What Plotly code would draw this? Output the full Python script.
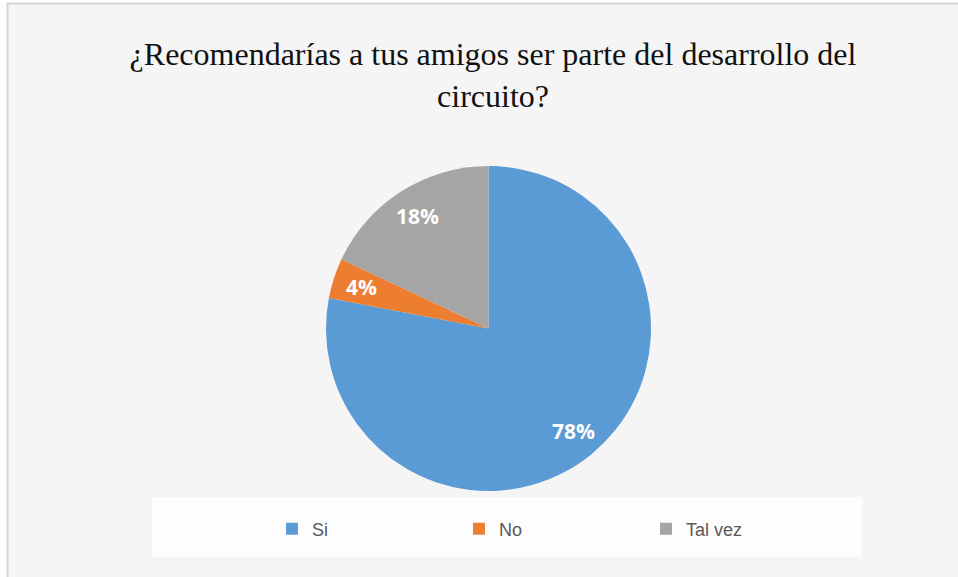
import math
import plotly.graph_objects as go

categories = ["Si", "No", "Tal vez"]
values = [78, 4, 18]
colors = ["#5B9BD5", "#ED7D31", "#A5A5A5"]
title_text = "¿Recomendarías a tus amigos ser parte del desarrollo del<br>circuito?"

W, H = 958, 577
# pie placement (pixels)
cx, cy, r = 488.5, 328.5, 162.5

fig = go.Figure()
fig.add_trace(go.Pie(
    labels=categories,
    values=values,
    sort=False,
    direction="clockwise",
    rotation=0,
    marker=dict(colors=colors, line=dict(color="white", width=0)),
    textinfo="none",
    domain=dict(x=[(cx - r) / W, (cx + r) / W], y=[1 - (cy + r) / H, 1 - (cy - r) / H]),
    hoverinfo="label+percent",
))

# data labels placed along each slice bisector, computed from the values
total = sum(values)
annotations = []
cum = 0
for v in values:
    mid = (cum + v / 2) / total * 2 * math.pi
    cum += v
    px = cx + 0.82 * r * math.sin(mid)
    py = cy - 0.82 * r * math.cos(mid)
    annotations.append(dict(
        x=px / W, y=1 - py / H, xref="paper", yref="paper",
        text=f"{round(v / total * 100)}%", showarrow=False,
        xanchor="center", yanchor="middle",
        font=dict(family="Open Sans", size=21, color="white", weight="bold"),
    ))

fig.update_layout(
    width=W, height=H,
    margin=dict(l=0, r=0, t=0, b=0),
    paper_bgcolor="white",
    plot_bgcolor="white",
    title=dict(
        text=title_text,
        x=493 / W, xanchor="center",
        y=1 - 65 / H, yanchor="top",
        font=dict(family="Liberation Serif", size=32, color="#111111"),
    ),
    showlegend=True,
    legend=dict(
        orientation="h",
        x=272 / W, xanchor="left",
        y=1 - 529 / H, yanchor="middle",
        bgcolor="rgba(0,0,0,0)",
        font=dict(family="Liberation Sans", size=18, color="#595959"),
        entrywidth=142, entrywidthmode="pixels",
        itemwidth=30,
    ),
    annotations=annotations,
    shapes=[
        dict(type="rect", xref="paper", yref="paper",
             x0=7.5 / W, x1=1.01, y0=-0.01, y1=1 - 3.5 / H,
             fillcolor="#f5f5f5", line=dict(color="#d6d6d6", width=2), layer="below"),
        dict(type="rect", xref="paper", yref="paper",
             x0=152 / W, x1=862 / W, y0=1 - 557 / H, y1=1 - 497 / H,
             fillcolor="#fdfdfd", line=dict(width=0), layer="below"),
    ],
)

fig.write_html(
    "out.html",
    config={"displayModeBar": False},
    post_script="document.body.style.margin='0';document.body.style.overflow='hidden';",
)
